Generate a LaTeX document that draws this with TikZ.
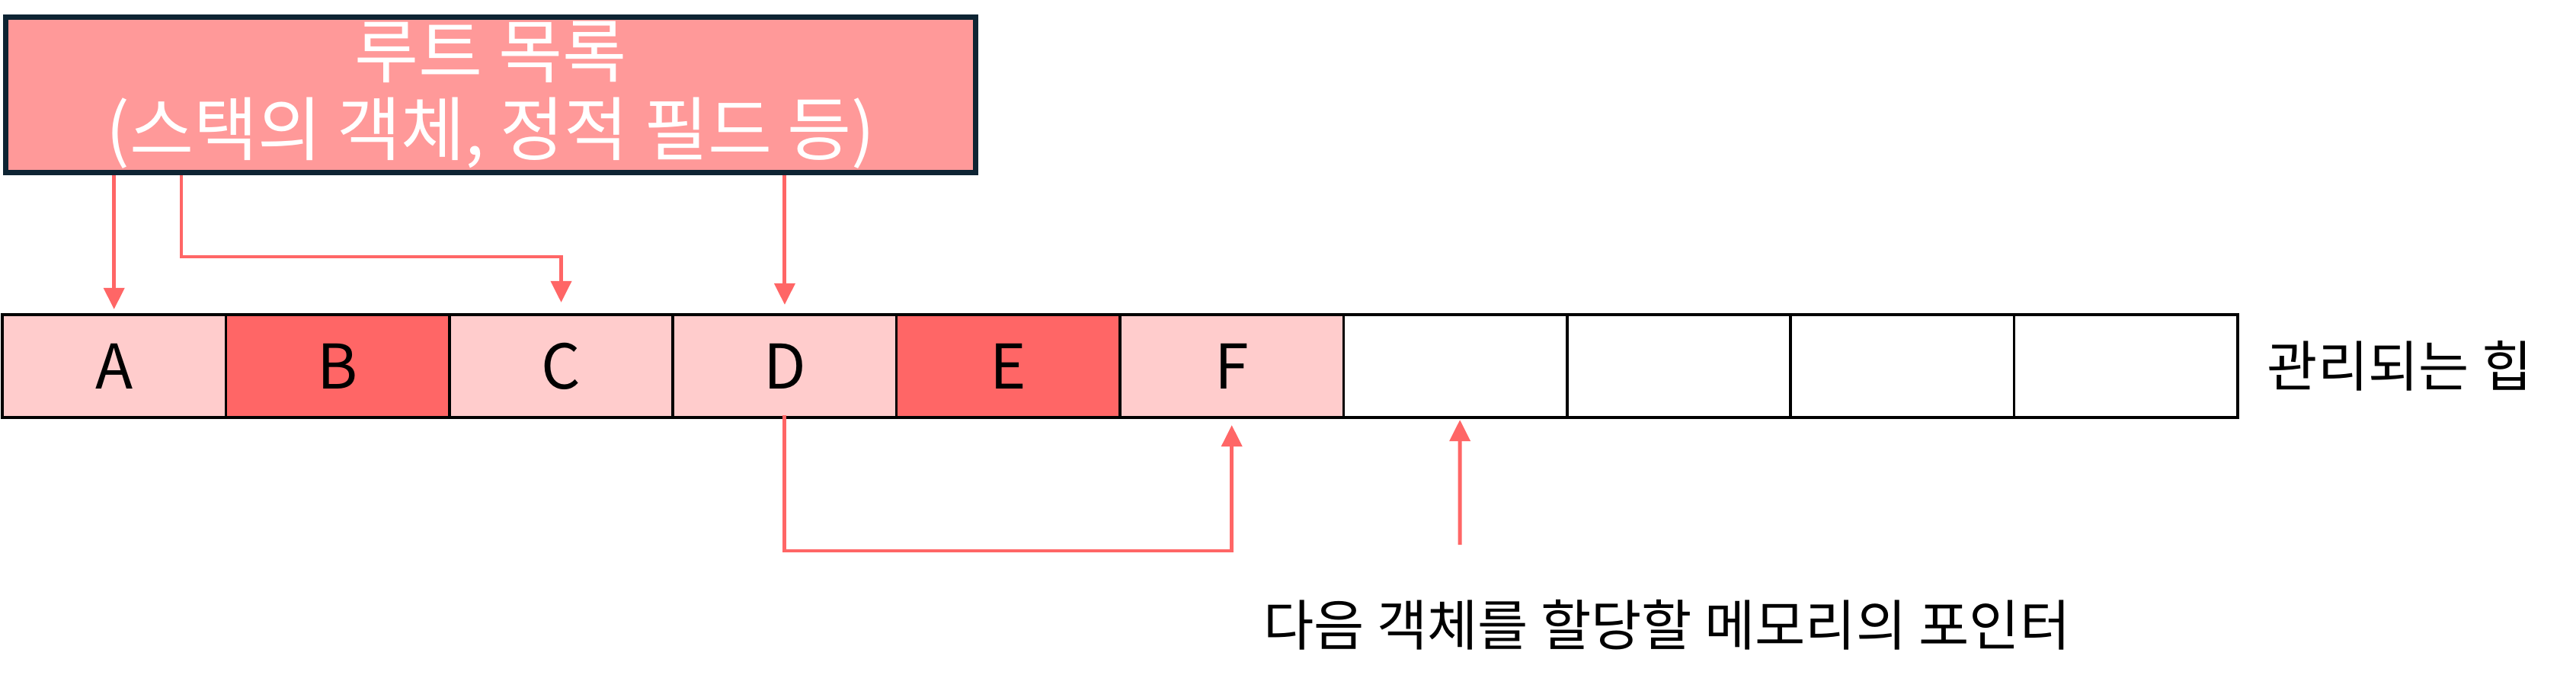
\documentclass[tikz,border=0pt]{standalone}
\usepackage{fontspec}
\setmainfont{Noto Sans CJK KR}
\usetikzlibrary{positioning,calc,arrows.meta}
\definecolor{rootfill}{HTML}{FF9999}
\definecolor{rootline}{HTML}{0E2433}
\definecolor{livec}{HTML}{FFCCCC}
\definecolor{deadc}{HTML}{FF6666}
\definecolor{ptrc}{HTML}{FF6666}
\tikzset{
  rootbox/.style = {draw=rootline, fill=rootfill, line width=2pt, text=white,
                    align=center, minimum width=12.73cm, minimum height=2.04cm,
                    inner sep=0pt, font=\fontsize{26}{29}\selectfont},
  cell/.style    = {draw=black, line width=1pt, minimum width=2.934cm,
                    minimum height=1.35cm, inner sep=0pt, outer sep=0pt,
                    font=\fontsize{23}{27}\selectfont},
  ptr/.style     = {draw=ptrc, line width=1.4pt,
                    -{Triangle[width=7.6pt,length=8pt]}},
  lbl/.style     = {inner sep=0pt, font=\fontsize{20.5}{24}\selectfont},
}
\begin{document}
\begin{tikzpicture}
  \useasboundingbox (0,0) rectangle (33.81,-9.06);
  % root set
  \node[rootbox] (root) at (6.44,-1.245) {루트 목록\\(스택의 객체, 정적 필드 등)};
  % heap cells
  \foreach \i/\l/\f in {1/A/livec,2/B/deadc,3/C/livec,4/D/livec,5/E/deadc,
                        6/F/livec,7//white,8//white,9//white,10//white}
    \node[cell, fill=\f] (c\i) at ({0.03+1.467+(\i-1)*2.934},-4.805) {\l};
  \node[lbl, right=0.38cm of c10] (heaplbl) {관리되는 힙};
  % references from the roots
  \draw[ptr] (root.south -| c1.north) -- ([yshift=0.7mm]c1.north);
  \draw[ptr] ([xshift=2.34cm]root.south west) |- ($(c3.north)+(0,0.76)$)
    -- ([yshift=1.6mm]c3.north);
  \draw[ptr] (root.south -| c4.north) -- ([yshift=1.3mm]c4.north);
  % D refers to F
  \draw[ptr] ([yshift=0.3mm]c4.south) -- ++(0,-1.78) -| ([yshift=-1mm]c6.south);
  % next object pointer
  \coordinate (nxt) at ($(c7.south)+(0.06,-1.67)$);
  \draw[ptr] (nxt) -- ([xshift=0.6mm,yshift=-0.3mm]c7.south);
  \node[lbl] (ptrlbl) at (21.88,-8.2) {다음 객체를 할당할 메모리의 포인터};
\end{tikzpicture}
\end{document}
